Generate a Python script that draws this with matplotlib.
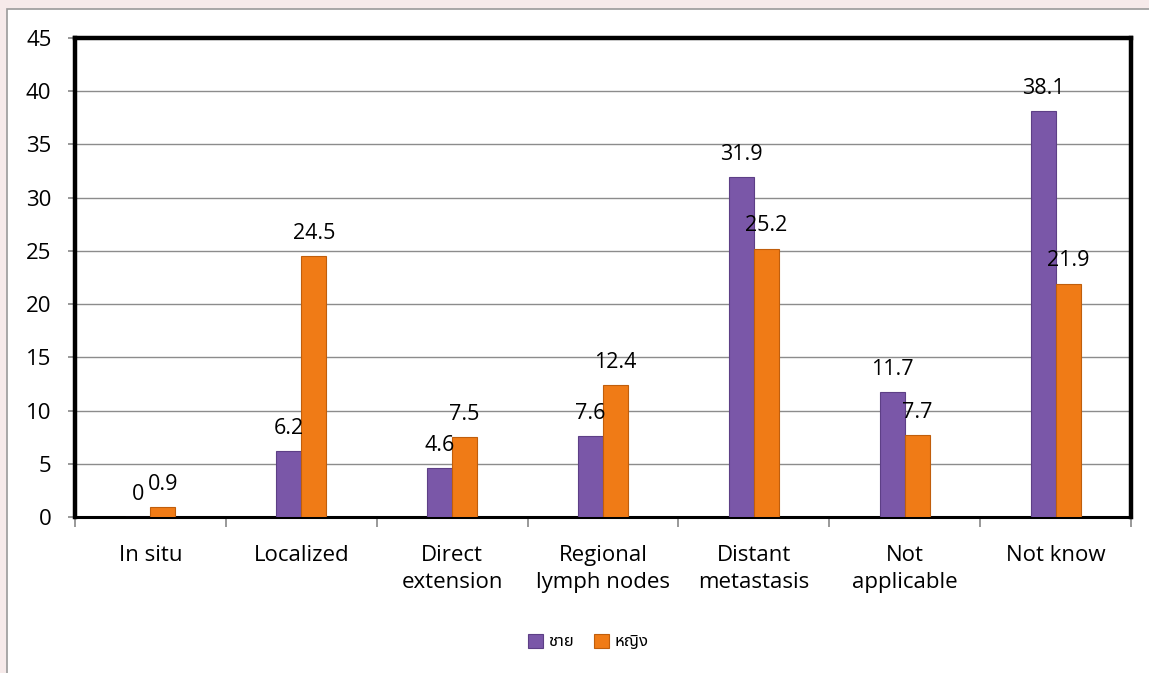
import matplotlib.pyplot as plt
import numpy as np
from matplotlib.patches import Rectangle

categories = ['In situ', 'Localized', 'Direct\nextension', 'Regional\nlymph nodes',
              'Distant\nmetastasis', 'Not\napplicable', 'Not know']
male = [0, 6.2, 4.6, 7.6, 31.9, 11.7, 38.1]
female = [0.9, 24.5, 7.5, 12.4, 25.2, 7.7, 21.9]
series_names = ['ชาย', 'หญิง']
yticks = [0, 5, 10, 15, 20, 25, 30, 35, 40, 45]

plt.rcParams['font.family'] = ['Open Sans', 'Noto Sans Thai', 'Loma', 'Garuda', 'DejaVu Sans']

fig = plt.figure(figsize=(11.49, 6.73), dpi=100, facecolor='#f6eaea')
# white chart area with a thin grey frame
fig.patches.append(Rectangle((7 / 1149, -0.01), 1.0, (673 - 9) / 673 + 0.01,
                             transform=fig.transFigure, facecolor='white',
                             edgecolor='#9a9a9a', linewidth=1.2, zorder=-10))

ax = fig.add_axes([75 / 1149, 1 - 517 / 673, (1131 - 75) / 1149, (517 - 38) / 673])
ax.set_zorder(5)
ax.set_facecolor('white')

x = np.arange(len(categories))
w = 0.166
purple = '#7a57a8'
orange = '#f07b16'
b1 = ax.bar(x - w / 2, male, w, color=purple, edgecolor='#5d3f86', linewidth=0.8,
            label=series_names[0], zorder=3)
b2 = ax.bar(x + w / 2, female, w, color=orange, edgecolor='#c05e0c', linewidth=0.8,
            label=series_names[1], zorder=3)

for bars, vals in ((b1, male), (b2, female)):
    for rect, v in zip(bars, vals):
        ax.annotate(f'{v:g}', (rect.get_x() + rect.get_width() / 2, v),
                    xytext=(0, 9), textcoords='offset points',
                    ha='center', va='bottom', fontsize=15.5, color='black', zorder=4)

ax.set_ylim(0, 45)
ax.set_yticks(yticks)
ax.set_xlim(-0.5, len(categories) - 0.5)
ax.set_xticks(np.arange(-0.5, len(categories), 1.0))
ax.set_xticklabels([])
ax.set_xticks(x, minor=True)
ax.set_xticklabels(categories, minor=True, fontsize=16, linespacing=1.4)
ax.tick_params(axis='x', which='minor', length=0, pad=20)
ax.tick_params(axis='x', which='major', length=7, color='#888888', width=1.2)
ax.tick_params(axis='y', labelsize=16, length=5, color='#888888', width=1.2, pad=12)

ax.grid(axis='y', color='#8c8c8c', linewidth=1.0, zorder=0)
ax.set_axisbelow(True)

for side in ('top', 'right', 'left'):
    ax.spines[side].set_linewidth(3.2)
    ax.spines[side].set_color('black')
ax.spines['bottom'].set_linewidth(2.2)
ax.spines['bottom'].set_color('black')

ax.legend(loc='center', bbox_to_anchor=(0.486, -0.261), ncol=2, frameon=False,
          fontsize=12, handlelength=0.9, handleheight=0.9, handletextpad=0.3,
          columnspacing=1.2)

fig.savefig('out.png', dpi=100, facecolor=fig.get_facecolor())
